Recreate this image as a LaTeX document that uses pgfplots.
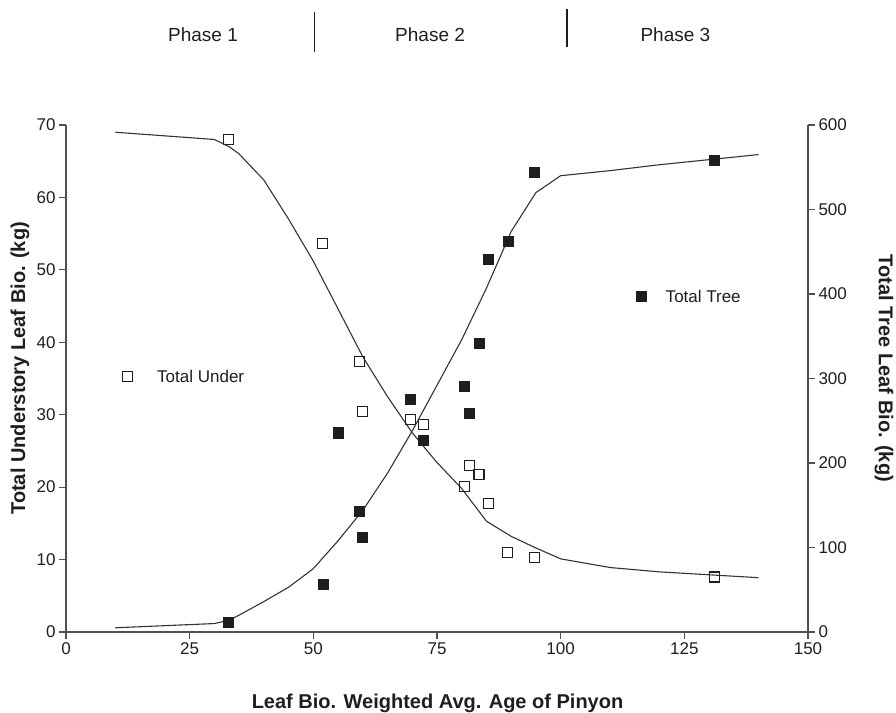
\documentclass[border=0pt]{standalone}
\usepackage{fontspec}
\setmainfont{Liberation Sans}
\usepackage{pgfplots}
\pgfplotsset{compat=1.18}
\definecolor{ink}{HTML}{1E1E1E}
\definecolor{axisgray}{HTML}{505050}
\definecolor{curve}{HTML}{333333}

\pgfplotstableread{
x y
32.8 68.0
51.9 53.6
55.1 27.4
59.3 37.4
59.9 30.4
69.6 29.3
72.3 28.7
80.5 20.1
81.5 23.0
83.5 21.7
85.4 17.7
89.3 11.0
94.7 10.3
131.1 7.6
}\underdata

\pgfplotstableread{
x y
32.8 12
51.9 56
55.1 237
59.3 143
59.9 112
69.6 275
72.3 227
80.5 291
81.5 259
83.5 342
85.4 441
89.3 462
94.7 544
131.1 558
}\treedata

\pgfplotstableread{
x y
10 69.0
20 68.5
30 68.0
33 67.0
35 66.0
40 62.4
45 57.0
50 51.2
55 44.6
60 38.0
65 32.5
70 27.5
75 23.4
80 19.8
85 15.3
90 13.2
95 11.6
100 10.1
110 8.9
120 8.3
130 7.9
140 7.5
}\undercurve

\pgfplotstableread{
x y
10 5
30 10
33 14
35 20
40 36
45 53
50 75
55 108
60 144
65 188
70 238
75 292
80 346
85 407
90 474
95 520
100 540
110 546
120 553
130 559
140 565
}\treecurve

\begin{document}
\begin{tikzpicture}
\path[use as bounding box] (-66bp,-81bp) rectangle (830bp,632bp);
\pgfplotsset{
 common/.style={
  scale only axis, width=742bp, height=507bp,
  xmin=0, xmax=150,
  tick align=outside, major tick length=7bp,
  axis line style={-, draw=axisgray, line width=1.3bp},
  every tick/.style={draw=axisgray, line width=1.2bp},
  tick label style={font=\fontsize{17bp}{20bp}\selectfont, text=ink},
  /pgf/number format/assume math mode=true,
  clip=false,
 }
}
\begin{axis}[common,
  axis x line*=bottom, axis y line*=left,
  ymin=0, ymax=70, ytick={0,10,...,70},
  xtick={0,25,...,150},
  xlabel={Leaf Bio. Weighted Avg. Age of Pinyon},
  ylabel={Total Understory Leaf Bio. (kg)},
  every axis x label/.style={at={(axis description cs:0.5007,-0.14)},anchor=center,font=\bfseries\fontsize{20bp}{24bp}\selectfont, text=ink},
  every axis y label/.style={at={(axis description cs:-0.062,0.52)},anchor=center,rotate=90,font=\bfseries\fontsize{20bp}{24bp}\selectfont, text=ink},
]
\addplot[curve, line width=1.1bp, no marks] table[x=x,y=y] {\undercurve};
\addplot[only marks, mark=square, mark size=5bp, mark options={draw=ink, fill=white, line width=1.2bp}] table[x=x,y=y] {\underdata};
\addplot[only marks, mark=square, mark size=5bp, mark options={draw=ink, fill=white, line width=1.2bp}] coordinates {(12.5,35.3)};
\node[anchor=west, inner sep=0pt, font=\fontsize{17bp}{20bp}\selectfont, text=ink] at (axis cs:18.4,35.3) {Total Under};
\node[font=\fontsize{19bp}{22bp}\selectfont, text=ink] at (axis cs:27.7,82.4) {Phase 1};
\node[font=\fontsize{19bp}{22bp}\selectfont, text=ink] at (axis cs:73.6,82.4) {Phase 2};
\node[font=\fontsize{19bp}{22bp}\selectfont, text=ink] at (axis cs:123.2,82.4) {Phase 3};
\draw[ink, line width=1.6bp] (axis cs:50.2,80.1) -- (axis cs:50.2,85.6);
\draw[ink, line width=1.6bp] (axis cs:101.3,80.8) -- (axis cs:101.3,86.0);
\end{axis}
\begin{axis}[common,
  axis x line=none, axis y line*=right,
  ymin=0, ymax=600, ytick={0,100,...,600},
  ylabel={Total Tree Leaf Bio. (kg)},
  every axis y label/.style={at={(axis description cs:1.1024,0.52)},anchor=center,rotate=-90,font=\bfseries\fontsize{20bp}{24bp}\selectfont, text=ink},
]
\addplot[curve, line width=1.1bp, no marks] table[x=x,y=y] {\treecurve};
\addplot[only marks, mark=square*, mark size=5bp, mark options={draw=ink, fill=ink}] table[x=x,y=y] {\treedata};
\addplot[only marks, mark=square*, mark size=5bp, mark options={draw=ink, fill=ink}] coordinates {(116.2,397.6)};
\node[anchor=west, inner sep=0pt, font=\fontsize{17bp}{20bp}\selectfont, text=ink] at (axis cs:121.2,397.6) {Total Tree};
\end{axis}
\end{tikzpicture}
\end{document}
